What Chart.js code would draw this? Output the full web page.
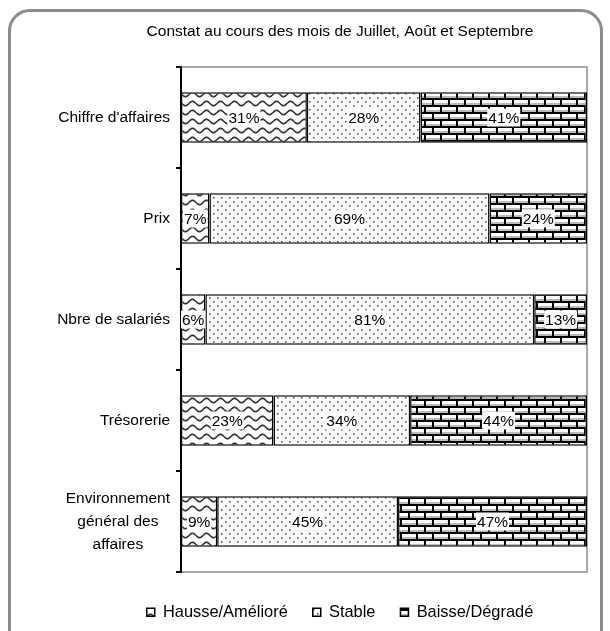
<!DOCTYPE html>
<html>
<head>
<meta charset="utf-8">
<script src="https://cdn.jsdelivr.net/npm/chart.js@4.4.1/dist/chart.umd.min.js"></script>
<style>
  body { margin: 0; background: #fff; }
  #frame { position: absolute; left: 8px; top: 9px; width: 589px; height: 650px;
           border: 3px solid #8c8c8c; border-radius: 22px; }
  #chart { position: absolute; left: 0; top: 0; }
</style>
</head>
<body>
<div id="frame"></div>
<canvas id="chart" width="610" height="631"></canvas>
<script>
// chart data
const categories = [["Chiffre d'affaires"], ["Prix"], ["Nbre de salariés"], ["Trésorerie"], ["Environnement", "général des", "affaires"]];
const seriesNames = ['Hausse/Amélioré', 'Stable', 'Baisse/Dégradé'];
const hausse = [31, 7, 6, 23, 9];
const stable = [28, 69, 81, 34, 45];
const baisse = [41, 24, 13, 44, 47];
const title = 'Constat au cours des mois de Juillet, Août et Septembre';

const FONT = "'Liberation Sans', Arial, sans-serif";
const FSIZE = 15.5;

// fill patterns
function wavePattern() {
    const c = document.createElement('canvas');
    c.width = 14; c.height = 9;
    const g = c.getContext('2d');
    g.fillStyle = '#fff';
    g.fillRect(0, 0, 14, 9);
    g.strokeStyle = '#333';
    g.lineWidth = 1.6;
    g.beginPath();
    for (let x = -1; x <= 15; x++) {
        const y = 4.5 + 2.2 * Math.sin(x / 14 * 2 * Math.PI);
        if (x === -1) g.moveTo(x, y); else g.lineTo(x, y);
    }
    g.stroke();
    return g.createPattern(c, 'repeat');
}

function dotPattern() {
    const c = document.createElement('canvas');
    c.width = 8; c.height = 8;
    const g = c.getContext('2d');
    g.fillStyle = '#fff';
    g.fillRect(0, 0, 8, 8);
    g.fillStyle = '#555';
    g.fillRect(1, 1, 1.6, 1.6);
    g.fillRect(5, 5, 1.6, 1.6);
    return g.createPattern(c, 'repeat');
}

function brickPattern() {
    const c = document.createElement('canvas');
    c.width = 16; c.height = 14;
    const g = c.getContext('2d');
    g.fillStyle = '#fff';
    g.fillRect(0, 0, 16, 14);
    g.fillStyle = '#bbb';
    g.fillRect(0, 5, 16, 2);
    g.fillRect(0, 12, 16, 2);
    g.fillStyle = '#000';
    g.fillRect(0, 0, 16, 2);
    g.fillRect(0, 7, 16, 2);
    g.fillRect(0, 2, 2, 5);
    g.fillRect(8, 9, 2, 5);
    return g.createPattern(c, 'repeat');
}

const raw = [hausse, stable, baisse];
const totals = hausse.map((v, i) => v + stable[i] + baisse[i]);
// 100% stacked: each bar scaled to its own total
const share = s => s.map((v, i) => v / totals[i] * 100);
const fills = [wavePattern(), dotPattern(), brickPattern()];

const frameBox = {
    id: 'frameBox',
    beforeDraw(chart) {
        const a = chart.chartArea, ctx = chart.ctx;
        ctx.save();
        ctx.strokeStyle = '#a8a8a8';
        ctx.lineWidth = 2;
        ctx.strokeRect(a.left, a.top, a.right - a.left, a.bottom - a.top);
        ctx.restore();
    }
};

const valueLabels = {
    id: 'valueLabels',
    afterDatasetsDraw(chart) {
        const ctx = chart.ctx;
        ctx.save();
        ctx.font = FSIZE + 'px ' + FONT;
        ctx.textAlign = 'center';
        ctx.textBaseline = 'middle';
        chart.data.datasets.forEach((ds, di) => {
            chart.getDatasetMeta(di).data.forEach((bar, i) => {
                const txt = raw[di][i] + '%';
                const cx = (bar.x + bar.base) / 2;
                const w = ctx.measureText(txt).width;
                ctx.fillStyle = '#fff';
                ctx.fillRect(cx - w / 2 - 1, bar.y - 9, w + 2, 18);
                ctx.fillStyle = '#000';
                ctx.fillText(txt, cx, bar.y + 1);
            });
        });
        ctx.restore();
    }
};

const categoryLabels = {
    id: 'categoryLabels',
    afterDraw(chart) {
        const ctx = chart.ctx, y = chart.scales.y;
        ctx.save();
        ctx.font = FSIZE + 'px ' + FONT;
        ctx.textAlign = 'center';
        ctx.textBaseline = 'middle';
        ctx.fillStyle = '#000';
        const lh = 23;
        categories.forEach((lines, i) => {
            const cy = y.getPixelForValue(i);
            const maxW = Math.max(...lines.map(l => ctx.measureText(l).width));
            const cx = 170 - maxW / 2;
            lines.forEach((l, k) => {
                ctx.fillText(l, cx, cy + (k - (lines.length - 1) / 2) * lh);
            });
        });
        ctx.restore();
    }
};

Chart.defaults.font.family = FONT;
Chart.defaults.font.size = FSIZE;
Chart.defaults.color = '#000';

new Chart(document.getElementById('chart'), {
    type: 'bar',
    data: {
        labels: categories.map(c => c.join(' ')),
        datasets: seriesNames.map((name, k) => ({
            label: name,
            data: share(raw[k]),
            backgroundColor: fills[k],
            borderColor: '#000',
            borderWidth: 1.5,
            borderSkipped: false,
            categoryPercentage: 0.5,
            barPercentage: 1,
        })),
    },
    options: {
        indexAxis: 'y',
        responsive: false,
        animation: false,
        devicePixelRatio: 1,
        layout: { padding: { left: 93, right: 23, top: 0, bottom: 0.6 } },
        scales: {
            x: { stacked: true, min: 0, max: 100, display: false },
            y: {
                stacked: true,
                afterFit(scale) { scale.width = 88; },
                ticks: { display: false },
                grid: { drawOnChartArea: false, drawTicks: true, tickLength: 5, color: '#000', lineWidth: 2 },
                border: { display: true, color: '#000', width: 2 },
            },
        },
        plugins: {
            title: {
                display: true,
                text: title,
                color: '#000',
                font: { size: FSIZE, weight: 'normal' },
                padding: { top: 22.7, bottom: 25.7 },
            },
            legend: {
                position: 'bottom',
                // empty title only pushes the legend row down a little
                title: { display: true, text: '', font: { size: 1, lineHeight: 1 }, padding: { top: 6, bottom: 0 } },
                labels: { boxWidth: 8, boxHeight: 8, padding: 25, color: '#000', font: { size: 16.4 } },
            },
            tooltip: { enabled: false },
        },
    },
    plugins: [frameBox, valueLabels, categoryLabels],
});
</script>
</body>
</html>
